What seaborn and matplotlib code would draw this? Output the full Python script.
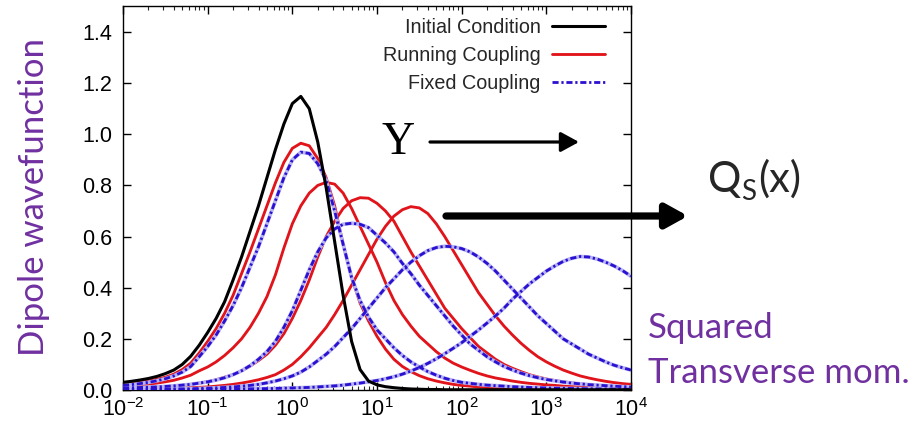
import numpy as np
import pandas as pd
import seaborn as sns
import matplotlib
matplotlib.use("Agg")
import matplotlib.pyplot as plt
from matplotlib.patches import FancyArrowPatch
from matplotlib.lines import Line2D
from matplotlib.ticker import LogLocator, NullFormatter, FixedLocator, FormatStrFormatter

# ---------------- data ----------------
log_k2 = [-2.0, -1.9, -1.8, -1.7, -1.6, -1.5, -1.4, -1.3, -1.2, -1.1, -1.0,
          -0.9, -0.8, -0.7, -0.6, -0.5, -0.4, -0.3, -0.2, -0.1, 0.0,
          0.1, 0.2, 0.3, 0.4, 0.5, 0.6, 0.7, 0.8, 0.9, 1.0,
          1.1, 1.2, 1.3, 1.4, 1.5, 1.6, 1.7, 1.8, 1.9, 2.0,
          2.1, 2.2, 2.3, 2.4, 2.5, 2.6, 2.7, 2.8, 2.9, 3.0,
          3.1, 3.2, 3.3, 3.4, 3.5, 3.6, 3.7, 3.8, 3.9, 4.0]

initial = [0.030, 0.034, 0.039, 0.045, 0.053, 0.064, 0.078, 0.100, 0.132, 0.175, 0.225,
           0.280, 0.345, 0.430, 0.520, 0.620, 0.720, 0.830, 0.940, 1.040, 1.120,
           1.148, 1.100, 0.970, 0.790, 0.580, 0.370, 0.190, 0.080, 0.035, 0.020,
           0.013, 0.009, 0.006, 0.004, 0.003, 0.002, 0.002, 0.001, 0.001, 0.001,
           0.001, 0.001, 0.001, 0.001, 0.001, 0.001, 0.001, 0.001, 0.001, 0.001,
           0.001, 0.001, 0.001, 0.001, 0.001, 0.001, 0.001, 0.001, 0.001, 0.001]

running_1 = [0.022, 0.026, 0.030, 0.035, 0.042, 0.050, 0.062, 0.080, 0.105, 0.145, 0.190,
             0.240, 0.300, 0.370, 0.455, 0.540, 0.630, 0.720, 0.810, 0.890, 0.945,
             0.965, 0.955, 0.905, 0.830, 0.720, 0.570, 0.440, 0.340, 0.270, 0.210,
             0.160, 0.120, 0.092, 0.072, 0.056, 0.044, 0.035, 0.028, 0.022, 0.018,
             0.015, 0.012, 0.010, 0.008, 0.007, 0.006, 0.005, 0.0045, 0.004, 0.0035,
             0.003, 0.003, 0.0025, 0.0025, 0.002, 0.002, 0.002, 0.002, 0.002, 0.002]

running_2 = [0.015, 0.017, 0.020, 0.023, 0.027, 0.032, 0.038, 0.047, 0.058, 0.075, 0.090,
             0.110, 0.135, 0.165, 0.200, 0.245, 0.300, 0.365, 0.450, 0.555, 0.650,
             0.720, 0.770, 0.800, 0.812, 0.805, 0.770, 0.710, 0.640, 0.570, 0.500,
             0.420, 0.350, 0.295, 0.250, 0.210, 0.180, 0.150, 0.125, 0.105, 0.090,
             0.077, 0.065, 0.055, 0.047, 0.041, 0.035, 0.030, 0.026, 0.023, 0.020,
             0.018, 0.015, 0.013, 0.012, 0.010, 0.009, 0.008, 0.007, 0.0065, 0.006]

running_3 = [0.006, 0.007, 0.008, 0.009, 0.011, 0.013, 0.015, 0.018, 0.022, 0.027, 0.032,
             0.040, 0.050, 0.060, 0.075, 0.093, 0.115, 0.140, 0.175, 0.220, 0.280,
             0.350, 0.430, 0.520, 0.600, 0.660, 0.710, 0.740, 0.752, 0.750, 0.730,
             0.700, 0.660, 0.600, 0.540, 0.485, 0.430, 0.375, 0.320, 0.280, 0.240,
             0.205, 0.170, 0.145, 0.120, 0.100, 0.085, 0.072, 0.060, 0.051, 0.043,
             0.037, 0.032, 0.028, 0.024, 0.021, 0.018, 0.016, 0.014, 0.012, 0.011]

running_4 = [0.003, 0.0035, 0.004, 0.0045, 0.005, 0.006, 0.007, 0.008, 0.009, 0.0105, 0.012,
             0.015, 0.018, 0.022, 0.027, 0.033, 0.040, 0.049, 0.060, 0.078, 0.100,
             0.130, 0.165, 0.205, 0.245, 0.295, 0.350, 0.410, 0.470, 0.530, 0.590,
             0.640, 0.680, 0.705, 0.717, 0.712, 0.690, 0.650, 0.600, 0.545, 0.490,
             0.435, 0.380, 0.335, 0.290, 0.250, 0.215, 0.183, 0.155, 0.130, 0.110,
             0.093, 0.078, 0.066, 0.055, 0.047, 0.040, 0.034, 0.029, 0.025, 0.022]

fixed_1 = [0.018, 0.021, 0.025, 0.030, 0.036, 0.044, 0.055, 0.070, 0.092, 0.130, 0.170,
           0.215, 0.270, 0.330, 0.400, 0.480, 0.560, 0.650, 0.740, 0.830, 0.900,
           0.930, 0.925, 0.885, 0.820, 0.700, 0.570, 0.440, 0.350, 0.285, 0.235,
           0.200, 0.165, 0.135, 0.110, 0.090, 0.072, 0.058, 0.046, 0.037, 0.030,
           0.026, 0.022, 0.019, 0.017, 0.015, 0.013, 0.0115, 0.010, 0.009, 0.008,
           0.007, 0.0065, 0.006, 0.0055, 0.005, 0.0045, 0.004, 0.0035, 0.0033, 0.003]

fixed_2 = [0.008, 0.009, 0.010, 0.011, 0.012, 0.014, 0.016, 0.019, 0.022, 0.027, 0.032,
           0.039, 0.048, 0.060, 0.075, 0.095, 0.120, 0.150, 0.190, 0.245, 0.310,
           0.390, 0.470, 0.540, 0.595, 0.630, 0.648, 0.652, 0.648, 0.635, 0.605,
           0.575, 0.540, 0.495, 0.455, 0.410, 0.370, 0.330, 0.290, 0.250, 0.215,
           0.180, 0.155, 0.130, 0.110, 0.092, 0.078, 0.066, 0.056, 0.048, 0.041,
           0.036, 0.031, 0.027, 0.024, 0.021, 0.019, 0.017, 0.015, 0.013, 0.012]

fixed_3 = [0.002, 0.002, 0.0025, 0.0025, 0.003, 0.0035, 0.004, 0.0045, 0.005, 0.006, 0.007,
           0.0085, 0.010, 0.012, 0.015, 0.018, 0.022, 0.028, 0.035, 0.044, 0.055,
           0.070, 0.090, 0.115, 0.140, 0.170, 0.205, 0.240, 0.280, 0.320, 0.360,
           0.400, 0.435, 0.470, 0.500, 0.525, 0.545, 0.557, 0.562, 0.560, 0.553,
           0.540, 0.520, 0.495, 0.465, 0.430, 0.395, 0.360, 0.325, 0.290, 0.260,
           0.230, 0.200, 0.180, 0.160, 0.140, 0.125, 0.110, 0.097, 0.087, 0.078]

fixed_4 = [0.001, 0.001, 0.001, 0.001, 0.0012, 0.0013, 0.0015, 0.0017, 0.002, 0.0022, 0.0025,
           0.0028, 0.003, 0.0035, 0.004, 0.0045, 0.005, 0.0055, 0.006, 0.007, 0.008,
           0.009, 0.010, 0.012, 0.014, 0.016, 0.019, 0.023, 0.027, 0.032, 0.037,
           0.044, 0.052, 0.062, 0.074, 0.088, 0.104, 0.122, 0.142, 0.163, 0.185,
           0.210, 0.235, 0.262, 0.290, 0.320, 0.355, 0.385, 0.415, 0.440, 0.465,
           0.485, 0.503, 0.515, 0.522, 0.520, 0.512, 0.500, 0.485, 0.467, 0.445]

legend_labels = ["Initial Condition", "Running Coupling", "Fixed Coupling"]
y_ticks = [0.0, 0.2, 0.4, 0.6, 0.8, 1.0, 1.2, 1.4]
x_ticks = [1e-2, 1e-1, 1e0, 1e1, 1e2, 1e3, 1e4]

# ---------------- style ----------------
sns.set_theme(style="ticks")
plt.rcParams["font.family"] = ["Liberation Sans", "DejaVu Sans"]
plt.rcParams["mathtext.default"] = "regular"
plt.rcParams["axes.linewidth"] = 1.0

BLACK = "#000000"
RED = "#e0141a"
BLUE = "#2a10d0"
HALO = "#b8b4f4"
PURPLE = "#7030A0"

fig = plt.figure(figsize=(9.2, 4.32), dpi=100)
ax = fig.add_axes([123 / 920, 42 / 432, (631 - 123) / 920, (390 - 6.4) / 432])

k2 = 10.0 ** np.array(log_k2)

def draw(values, color, ls, lw, z):
    sns.lineplot(x=k2, y=values, ax=ax, color=color, linestyle=ls, linewidth=lw,
                 sort=False, estimator=None, zorder=z)

dashdot = (0, (2.2, 1.0, 0.8, 1.0))

for v in [running_1, running_2, running_3, running_4]:
    draw(v, RED, "-", 2.05, 3)
for v in [fixed_1, fixed_2, fixed_3, fixed_4]:
    draw(v, HALO, "-", 2.7, 4)
    draw(v, BLUE, dashdot, 2.0, 5)
draw(initial, BLACK, "-", 2.2, 6)

ax.set_xscale("log")
ax.set_xlim(1e-2, 1e4)
ax.set_ylim(0, 1.5)
ax.xaxis.set_major_locator(FixedLocator(x_ticks))
ax.xaxis.set_minor_locator(LogLocator(base=10, subs=np.arange(2, 10), numticks=20))
ax.xaxis.set_minor_formatter(NullFormatter())
ax.yaxis.set_major_locator(FixedLocator(y_ticks))
ax.yaxis.set_major_formatter(FormatStrFormatter("%.1f"))
ax.tick_params(axis="both", which="major", direction="in", length=6, width=1,
               top=True, right=True, labelsize=15.5, colors="black", pad=6)
ax.tick_params(axis="both", which="minor", direction="in", length=3, width=0.8,
               top=True, right=True)
ax.tick_params(axis="y", pad=8)
ax.set_xlabel("")
ax.set_ylabel("")
for s in ax.spines.values():
    s.set_color("black")
    s.set_linewidth(1.0)

handles = [Line2D([], [], color=BLACK, lw=2.2),
           Line2D([], [], color=RED, lw=2.05),
           Line2D([], [], color=BLUE, lw=2.0, linestyle=dashdot)]
leg = ax.legend(handles, legend_labels, loc="upper right", frameon=False,
                markerfirst=False, fontsize=14.2, handlelength=2.7, handletextpad=0.55,
                labelspacing=0.45, borderaxespad=0.2, bbox_to_anchor=(0.972, 1.0))

# ---------------- annotations ----------------
def fx(px):
    return px / 920

def fy(py):
    return (432 - py) / 432

fig.text(fx(398), fy(143), "Y", family=["Liberation Serif", "DejaVu Serif"],
         fontsize=33, ha="center", va="center", color="black")

arr1 = FancyArrowPatch((fx(430), fy(142)), (fx(579), fy(142)), transform=fig.transFigure,
                       arrowstyle="-|>,head_length=0.55,head_width=0.3",
                       mutation_scale=20, lw=2.3, color="black", shrinkA=0, shrinkB=0,
                       zorder=10)
fig.add_artist(arr1)

arr2 = FancyArrowPatch((fx(446), fy(216)), (fx(688), fy(216)), transform=fig.transFigure,
                       arrowstyle="-|>,head_length=0.65,head_width=0.36",
                       mutation_scale=20, lw=5.2, color="black", shrinkA=0, shrinkB=0,
                       zorder=10)
fig.add_artist(arr2)

qfont = ["Lato", "DejaVu Sans"]
fig.text(fx(708), fy(192), "Q", family=qfont, fontsize=30, ha="left", va="baseline")
fig.text(fx(741), fy(200), "S", family=qfont, fontsize=20, ha="left", va="baseline")
fig.text(fx(758), fy(192), "(x)", family=qfont, fontsize=30, ha="left", va="baseline")

fig.text(fx(34), fy(197), "Dipole wavefunction", family=qfont, fontsize=25,
         color=PURPLE, rotation=90, ha="center", va="center")
fig.text(fx(648), fy(338), "Squared", family=qfont, fontsize=25, color=PURPLE,
         ha="left", va="baseline")
fig.text(fx(648), fy(383), "Transverse mom.", family=qfont, fontsize=25, color=PURPLE,
         ha="left", va="baseline")

fig.savefig("out.png", dpi=100, facecolor="white")
